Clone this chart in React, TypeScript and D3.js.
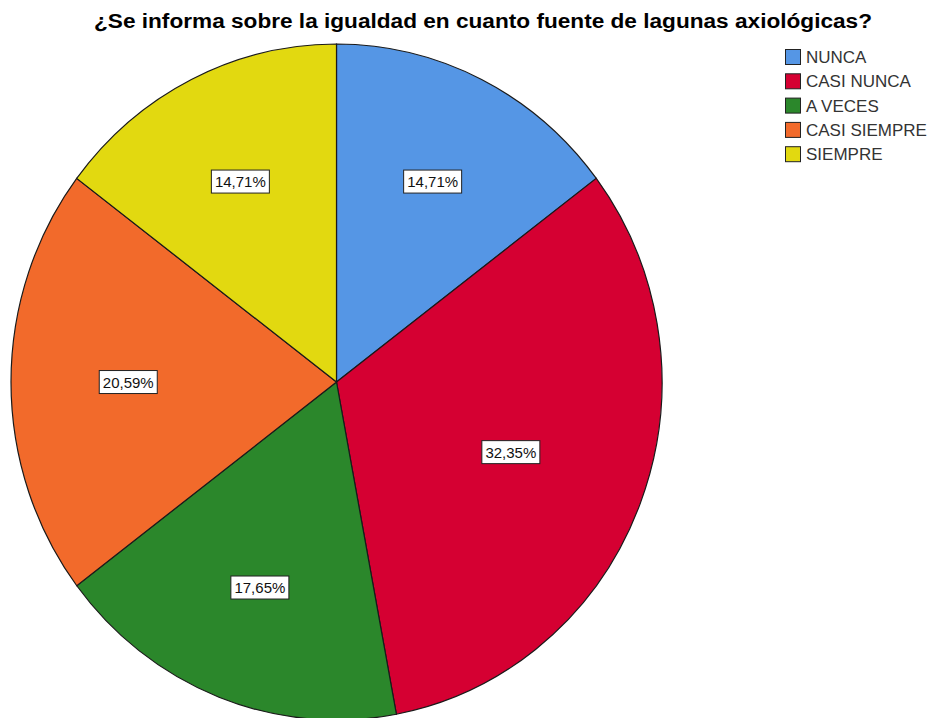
import React from "react";
import * as d3 from "d3";

const TITLE = "¿Se informa sobre la igualdad en cuanto fuente de lagunas axiológicas?";
const categories = ["NUNCA", "CASI NUNCA", "A VECES", "CASI SIEMPRE", "SIEMPRE"];
const values = [14.71, 32.35, 17.65, 20.59, 14.71];
const labels = ["14,71%", "32,35%", "17,65%", "20,59%", "14,71%"];
const colors = ["#5596E5", "#D50032", "#2B872B", "#F26A2B", "#E2D910"];

const W = 941;
const H = 718;
const CX = 336.5;
const CY = 382;
const RX = 325.5;
const RY = 338;

export default function App() {
  const pie = d3.pie<number>().sort(null).value((d) => d)(values);
  const arc = d3.arc<d3.PieArcDatum<number>>().innerRadius(0).outerRadius(RX);
  const sy = RY / RX;

  return (
    <svg
      width={W}
      height={H}
      style={{ position: "absolute", left: 0, top: 0, background: "#fff" }}
      fontFamily="'Liberation Sans', Arial, sans-serif"
    >
      <rect x={0} y={0} width={W} height={H} fill="#fff" />
      <text
        x={483}
        y={28}
        textAnchor="middle"
        fontSize={19.5}
        fontWeight="bold"
        fill="#000"
        textLength={778}
        lengthAdjust="spacingAndGlyphs"
      >
        {TITLE}
      </text>
      <g transform={`translate(${CX},${CY}) scale(1,${sy})`}>
        {pie.map((p, i) => (
          <path
            key={i}
            d={arc(p) || ""}
            fill={colors[i]}
            stroke="#1a1a1a"
            strokeWidth={1.2}
            vectorEffect="non-scaling-stroke"
          />
        ))}
      </g>
      {pie.map((p, i) => {
        const half = (p.endAngle - p.startAngle) / 2;
        const rr = 1.03 * (2 / 3) * RX * (Math.sin(half) / half);
        const [lx, ly] = d3
          .arc<d3.PieArcDatum<number>>()
          .innerRadius(rr)
          .outerRadius(rr)
          .centroid(p);
        const x = CX + lx;
        const y = CY + ly * sy;
        return (
          <g key={i} transform={`translate(${x},${y})`}>
            <rect x={-29} y={-11.5} width={58} height={23} fill="#fff" stroke="#222" strokeWidth={1} />
            <text x={0} y={5.5} textAnchor="middle" fontSize={15} fill="#111">
              {labels[i]}
            </text>
          </g>
        );
      })}
      {categories.map((c, i) => (
        <g key={c} transform={`translate(785,${49 + i * 24.3})`}>
          <rect x={0.5} y={0.5} width={15} height={15} fill={colors[i]} stroke="#222" strokeWidth={1} />
          <text x={21} y={14} fontSize={17} fill="#333">
            {c}
          </text>
        </g>
      ))}
    </svg>
  );
}
